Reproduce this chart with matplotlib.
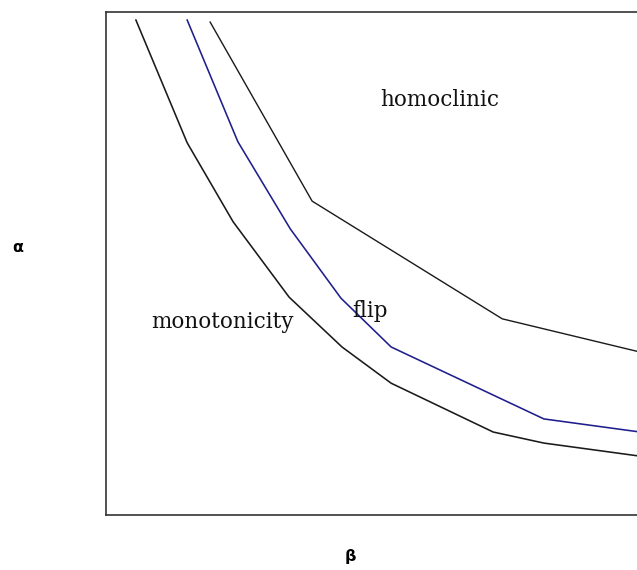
import matplotlib

matplotlib.use("Agg")
import matplotlib.pyplot as plt

# lower boundary (monotonicity / flip)
lower_beta = [0.56, 1.52, 2.38, 3.43, 4.42, 5.34, 7.25, 8.20, 10.0]
lower_alpha = [9.84, 7.40, 5.83, 4.33, 3.34, 2.62, 1.65, 1.43, 1.17]

# flip curve (blue)
flip_beta = [1.52, 2.47, 3.45, 4.40, 5.34, 8.20, 10.0]
flip_alpha = [9.84, 7.42, 5.69, 4.31, 3.34, 1.91, 1.65]

# upper boundary (homoclinic)
upper_beta = [1.95, 3.86, 7.42, 10.0]
upper_alpha = [9.80, 6.24, 3.90, 3.24]

REGIONS = [
    ("homoclinic", 5.13, 8.13),
    ("flip", 4.61, 3.94),
    ("monotonicity", 0.84, 3.72),
]

W, H = 637, 570
fig = plt.figure(figsize=(W / 100, H / 100), dpi=100)
ax = fig.add_axes([106 / W, 55 / H, (640 - 106) / W, 503 / H])

ax.plot(lower_beta, lower_alpha, color="#1a1a1a", linewidth=1.15)
ax.plot(flip_beta, flip_alpha, color="#1e1e8c", linewidth=1.15)
ax.plot(upper_beta, upper_alpha, color="#1a1a1a", linewidth=1.0)

for label, x, y in REGIONS:
    ax.text(x, y, label, family="DejaVu Serif", fontsize=15.5,
            ha="left", va="baseline", color="#111111")

ax.set_xlim(0, 10)
ax.set_ylim(0, 10)
ax.set_xticks([])
ax.set_yticks([])
for side in ("left", "top", "bottom"):
    ax.spines[side].set_linewidth(1.2)
    ax.spines[side].set_color("#333333")
ax.spines["right"].set_visible(False)

fig.text(18 / W, 1 - 248 / H, "α", fontsize=11.5, fontweight="bold",
         ha="center", va="center")
fig.text(350 / W, 1 - 557 / H, "β", fontsize=11.5, fontweight="bold",
         ha="center", va="center")

fig.savefig("out.png", dpi=100)
